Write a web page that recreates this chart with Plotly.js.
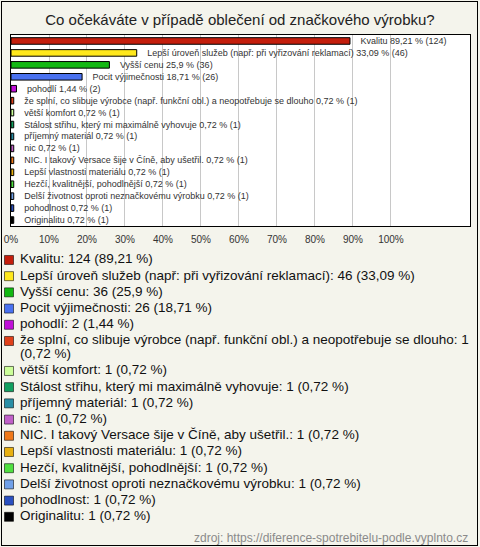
<!DOCTYPE html>
<html>
<head>
<meta charset="utf-8">
<script src="https://cdn.plot.ly/plotly-3.0.1.min.js"></script>
<style>
html,body{margin:0;padding:0;background:#f4f4ec;}
#wrap{position:relative;width:480px;height:547px;}
#chart{width:480px;height:547px;}
#frame{position:absolute;left:1px;top:1px;width:475px;height:543px;border:1px solid #000;pointer-events:none;}
</style>
</head>
<body>
<div id="wrap"><div id="chart"></div><div id="frame"></div></div>
<script>
const categories = [
  "Kvalitu",
  "Lepší úroveň služeb (např: při vyřizování reklamací)",
  "Vyšší cenu",
  "Pocit výjimečnosti",
  "pohodlí",
  "že splní, co slibuje výrobce (např. funkční obl.) a neopotřebuje se dlouho",
  "větší komfort",
  "Stálost střihu, který mi maximálně vyhovuje",
  "příjemný materiál",
  "nic",
  "NIC. I takový Versace šije v Číně, aby ušetřil.",
  "Lepší vlastnosti materiálu",
  "Hezčí, kvalitnější, pohodlnější",
  "Delší životnost oproti neznačkovému výrobku",
  "pohodlnost",
  "Originalitu"
];
const counts = [124, 46, 36, 26, 2, 1, 1, 1, 1, 1, 1, 1, 1, 1, 1, 1];
const percents = [89.21, 33.09, 25.9, 18.71, 1.44, 0.72, 0.72, 0.72, 0.72, 0.72, 0.72, 0.72, 0.72, 0.72, 0.72, 0.72];
const colors = ["#c41e0c", "#ffe81c", "#12b812", "#4a72f0", "#c010d8", "#e0401a", "#ccff99", "#12a060",
                "#2b8fa6", "#c060c8", "#f07818", "#e8b010", "#50e040", "#70a0e8", "#2a50c0", "#000000"];
const tickValues = [0, 10, 20, 30, 40, 50, 60, 70, 80, 90, 100];
const tickLabels = ["0%", "10%", "20%", "30%", "40%", "50%", "60%", "70%", "80%", "90%", "100%"];
const titleText = "Co očekáváte v případě oblečení od značkového výrobku?";
const sourceText = "zdroj: https://diference-spotrebitelu-podle.vyplnto.cz";

const FONT = "Liberation Sans, Arial, sans-serif";
const fmt = v => String(v).replace('.', ',');

const barLabels = categories.map((c, i) => '\u00a0\u00a0\u00a0' + c + ' ' + fmt(percents[i]) + ' % (' + counts[i] + ')');
const legendLabels = categories.map((c, i) => c + ': ' + counts[i] + ' (' + fmt(percents[i]) + ' %)');

// wrap over-long legend entries before the final "(...)" part
const MAXCH = 75;
const legendLines = legendLabels.map(t => {
  if (t.length <= MAXCH) return [t];
  const k = t.lastIndexOf(' (');
  return [t.slice(0, k), t.slice(k + 1)];
});
const WRAP = 0.85;
const entryY = [], lineText = [], lineY = [];
let pos = 0;
legendLines.forEach(lines => {
  entryY.push(pos);
  lines.forEach((t, j) => { lineText.push(t); lineY.push(pos + j * WRAP); });
  pos += 1 + (lines.length - 1) * WRAP;
});

const bars = {
  type: 'bar', orientation: 'h',
  x: percents, y: categories,
  width: 0.55,
  marker: {color: colors, line: {color: '#000', width: 1}},
  text: barLabels, textposition: 'outside', constraintext: 'none', cliponaxis: false,
  textfont: {family: FONT, size: 9, color: '#333'},
  hoverinfo: 'none', showlegend: false
};
const legendSquares = {
  type: 'scatter', mode: 'markers',
  x: entryY.map(() => 0), y: entryY, xaxis: 'x2', yaxis: 'y2',
  marker: {symbol: 'square', size: 9, color: colors, line: {color: 'rgba(0,0,0,0.55)', width: 1}},
  cliponaxis: false, hoverinfo: 'none', showlegend: false
};
const legendText = {
  type: 'scatter', mode: 'markers+text',
  x: lineY.map(() => 0), y: lineY, xaxis: 'x2', yaxis: 'y2',
  text: lineText, textposition: 'middle right',
  textfont: {family: FONT, size: 13.5, color: '#111'},
  marker: {size: 16, color: 'rgba(0,0,0,0)'},
  cliponaxis: false, hoverinfo: 'none', showlegend: false
};

const layout = {
  width: 480, height: 547,
  margin: {l: 4, r: 10, t: 35, b: 17},
  paper_bgcolor: '#f4f4ec', plot_bgcolor: '#f4f4ec',
  font: {family: FONT, color: '#222'},
  title: {text: titleText, x: 0.5, xanchor: 'center', y: 1 - 20 / 547, yanchor: 'middle',
          font: {family: FONT, size: 15, color: '#222'}},
  showlegend: false,
  bargap: 0,
  xaxis: {domain: [7 / 466, 1], anchor: 'y', range: [0, 120.8], tickmode: 'array', tickvals: tickValues, ticktext: tickLabels,
          showgrid: true, gridcolor: '#c8c8c8', gridwidth: 1, zeroline: false,
          showline: true, mirror: true, linecolor: '#000', linewidth: 1,
          ticks: 'outside', ticklen: 4, tickcolor: 'rgba(0,0,0,0)',
          tickfont: {family: FONT, size: 10, color: '#333'}, fixedrange: true},
  yaxis: {domain: [0.6141, 1], anchor: 'x', type: 'category', range: [15.5, -0.5],
          showticklabels: false, showgrid: false, zeroline: false, ticks: '',
          showline: true, mirror: true, linecolor: '#000', linewidth: 1, fixedrange: true},
  xaxis2: {domain: [0, 1], anchor: 'y2', range: [-5, 461], visible: false, fixedrange: true},
  yaxis2: {domain: [0.0103, 0.5619], anchor: 'x2', range: [16.35, -0.5], visible: false, fixedrange: true},
  shapes: [{type: 'rect', xref: 'x domain', yref: 'y domain', x0: 0, x1: 1, y0: 0, y1: 1,
            fillcolor: '#ffffff', line: {width: 0}, layer: 'below'}],
  annotations: [{text: sourceText, xref: 'paper', yref: 'paper', x: 1, y: -0.016,
                 xanchor: 'right', yanchor: 'middle', showarrow: false,
                 font: {family: FONT, size: 12, color: '#8a8a8a'}}]
};

Plotly.newPlot('chart', [bars, legendSquares, legendText], layout, {staticPlot: true, displayModeBar: false});
</script>
</body>
</html>
